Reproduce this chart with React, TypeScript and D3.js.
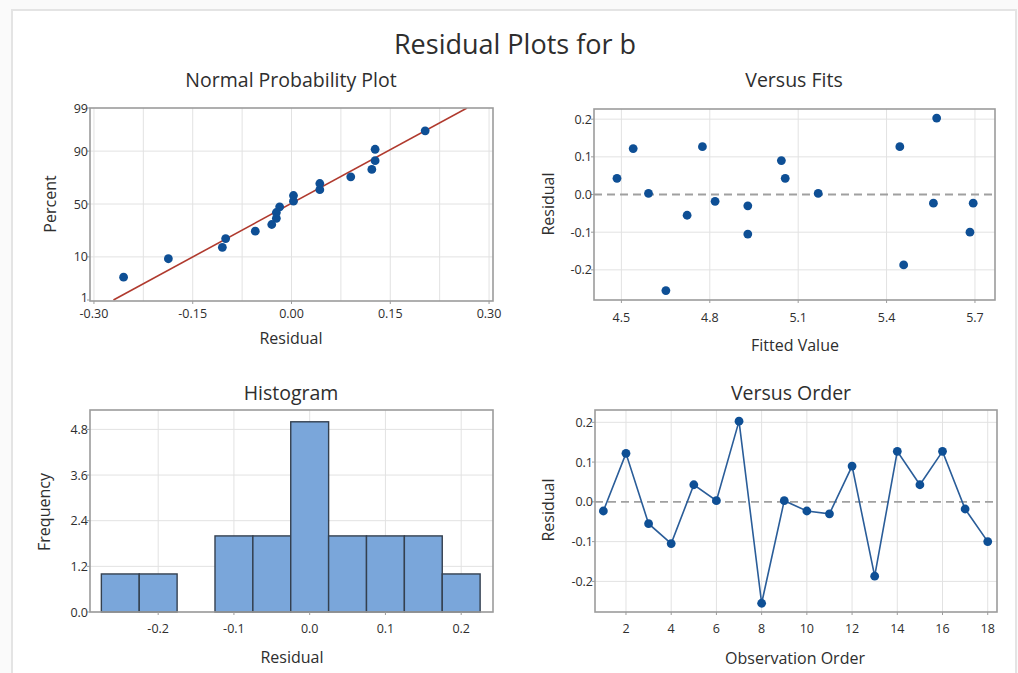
import * as d3 from "d3";

const residuals = [
  -0.023, 0.122, -0.055, -0.105, 0.043, 0.003, 0.203, -0.255, 0.003,
  -0.023, -0.03, 0.09, -0.187, 0.127, 0.043, 0.127, -0.018, -0.1,
];
const fittedValues = [
  5.559, 4.54, 4.723, 4.929, 4.485, 4.592, 5.57, 4.651, 5.168,
  5.694, 4.929, 5.043, 5.458, 4.775, 5.056, 5.445, 4.818, 5.683,
];
const histEdges = [
  -0.275, -0.225, -0.175, -0.125, -0.075, -0.025, 0.025, 0.075, 0.125, 0.175, 0.225,
];
const histCounts = [1, 1, 0, 2, 2, 5, 2, 2, 2, 1];

const normXTicks = [-0.3, -0.15, 0, 0.15, 0.3];
const normXGrid = [-0.3, -0.225, -0.15, -0.075, 0, 0.075, 0.15, 0.225, 0.3];
const percentTicks = [1, 10, 50, 90, 99];
const fitsTicks = [4.5, 4.8, 5.1, 5.4, 5.7];
const residTicks = [-0.2, -0.1, 0, 0.1, 0.2];
const histXTicks = [-0.2, -0.1, 0, 0.1, 0.2];
const freqTicks = [0, 1.2, 2.4, 3.6, 4.8];
const orderTicks = [2, 4, 6, 8, 10, 12, 14, 16, 18];

const FONT = "'Open Sans', 'Noto Sans', sans-serif";
const TXT = "#2e2e2e";
const GRID = "#e2e2e2";
const FRAME = "#9c9c9c";
const DOT = "#0e4f95";

// inverse normal cdf (Acklam)
function normInv(p: number) {
  const a = [-39.6968302866538, 220.946098424521, -275.928510446969, 138.357751867269, -30.6647980661472, 2.50662827745924];
  const b = [-54.4760987982241, 161.585836858041, -155.698979859887, 66.8013118877197, -13.2806815528857];
  const c = [-0.00778489400243029, -0.322396458041136, -2.40075827716184, -2.54973253934373, 4.37466414146497, 2.93816398269878];
  const d = [0.00778469570904146, 0.32246712907004, 2.445134137143, 3.75440866190742];
  const pl = 0.02425;
  if (p < pl) {
    const q = Math.sqrt(-2 * Math.log(p));
    return (((((c[0] * q + c[1]) * q + c[2]) * q + c[3]) * q + c[4]) * q + c[5]) /
      ((((d[0] * q + d[1]) * q + d[2]) * q + d[3]) * q + 1);
  }
  if (p > 1 - pl) {
    const q = Math.sqrt(-2 * Math.log(1 - p));
    return -(((((c[0] * q + c[1]) * q + c[2]) * q + c[3]) * q + c[4]) * q + c[5]) /
      ((((d[0] * q + d[1]) * q + d[2]) * q + d[3]) * q + 1);
  }
  const q = p - 0.5;
  const r = q * q;
  return (((((a[0] * r + a[1]) * r + a[2]) * r + a[3]) * r + a[4]) * r + a[5]) * q /
    (((((b[0] * r + b[1]) * r + b[2]) * r + b[3]) * r + b[4]) * r + 1);
}

type Box = { x0: number; x1: number; y0: number; y1: number };

function Frame({ b }: { b: Box }) {
  return (
    <rect x={b.x0} y={b.y0} width={b.x1 - b.x0} height={b.y1 - b.y0}
      fill="none" stroke={FRAME} strokeWidth={1.6} />
  );
}

function XTicks({ ticks, sx, b, fmt, dy }: any) {
  return (
    <g>
      {ticks.map((t: number) => (
        <g key={t}>
          <line x1={sx(t)} x2={sx(t)} y1={b.y1} y2={b.y1 + 3} stroke={FRAME} />
          <text x={sx(t)} y={b.y1 + dy} textAnchor="middle" fontSize={12.5} fill={TXT} fontFamily={FONT}>
            {fmt(t)}
          </text>
        </g>
      ))}
    </g>
  );
}

function YTicks({ ticks, sy, b, fmt, shift }: any) {
  return (
    <g>
      {ticks.map((t: number, i: number) => (
        <g key={t}>
          <line x1={b.x0 - 3} x2={b.x0} y1={sy(t)} y2={sy(t)} stroke={FRAME} />
          <text x={b.x0 - 2} y={sy(t) + 4.5 - (shift && i === 0 ? shift : 0)} textAnchor="end"
            fontSize={12.5} fill={TXT} fontFamily={FONT}>
            {fmt(t)}
          </text>
        </g>
      ))}
    </g>
  );
}

function Label({ x, y, text, rotate = false, size = 16 }: any) {
  return (
    <text x={x} y={y} textAnchor="middle" fontSize={size} fill={TXT} fontFamily={FONT}
      transform={rotate ? `rotate(-90,${x},${y})` : undefined}>
      {text}
    </text>
  );
}

export default function App() {
  const n = residuals.length;

  // Normal probability plot
  const b1: Box = { x0: 90, x1: 493, y0: 108, y1: 301 };
  const sx1 = d3.scaleLinear().domain([-0.306, 0.306]).range([b1.x0, b1.x1]);
  const sz1 = d3.scaleLinear().domain([normInv(0.01), normInv(0.99)]).range([300, b1.y0]);
  const sorted = [...residuals].sort(d3.ascending);
  const probPts = sorted.map((r, i) => ({ r, z: normInv((i + 1 - 0.3) / (n + 0.4)) }));
  const mu = d3.mean(residuals) as number;
  const sd = d3.deviation(residuals) as number;
  const zLo = normInv(0.01);
  const zHi = normInv(0.99);

  // Versus fits
  const b2: Box = { x0: 594, x1: 995, y0: 109, y1: 300 };
  const sx2 = d3.scaleLinear().domain([4.407, 5.768]).range([b2.x0, b2.x1]);
  const sy2 = d3.scaleLinear().domain([-0.28, 0.227]).range([b2.y1, b2.y0]);

  // Histogram
  const b3: Box = { x0: 90, x1: 493, y0: 410, y1: 612 };
  const sx3 = d3.scaleLinear().domain([-0.29, 0.242]).range([b3.x0, b3.x1]);
  const sy3 = d3.scaleLinear().domain([0, 5.31]).range([b3.y1, b3.y0]);

  // Versus order
  const b4: Box = { x0: 595, x1: 997, y0: 410, y1: 612 };
  const sx4 = d3.scaleLinear().domain([0.63, 18.41]).range([b4.x0, b4.x1]);
  const sy4 = d3.scaleLinear().domain([-0.277, 0.231]).range([b4.y1, b4.y0]);
  const orderLine = d3
    .line<number>()
    .x((_, i) => sx4(i + 1))
    .y((d) => sy4(d));

  const f2 = (v: number) => v.toFixed(2);
  const f1 = (v: number) => v.toFixed(1);

  return (
    <svg width={1018} height={673} style={{ position: "absolute", left: 0, top: 0, background: "#fafafa" }}>
      <rect x={12} y={10} width={1004} height={670} fill="#fff" stroke="#e4e4e4" strokeWidth={2} />
      <Label x={515} y={54} text="Residual Plots for b" size={27} />

      {/* Normal probability plot */}
      <Label x={291} y={87} text="Normal Probability Plot" size={19.5} />
      {normXGrid.map((t) => (
        <line key={t} x1={sx1(t)} x2={sx1(t)} y1={b1.y0} y2={b1.y1} stroke={GRID} />
      ))}
      {[10, 50, 90].map((p) => (
        <line key={p} x1={b1.x0} x2={b1.x1} y1={sz1(normInv(p / 100))} y2={sz1(normInv(p / 100))} stroke={GRID} />
      ))}
      <clipPath id="c1">
        <rect x={b1.x0} y={b1.y0} width={b1.x1 - b1.x0} height={b1.y1 - b1.y0} />
      </clipPath>
      <line clipPath="url(#c1)" x1={sx1(mu + sd * zLo)} y1={sz1(zLo)} x2={sx1(mu + sd * zHi)} y2={sz1(zHi)}
        stroke="#b03a2e" strokeWidth={1.6} />
      {probPts.map((p, i) => (
        <circle key={i} cx={sx1(p.r)} cy={sz1(p.z)} r={4.4} fill={DOT} />
      ))}
      <Frame b={b1} />
      <XTicks ticks={normXTicks} sx={sx1} b={b1} fmt={f2} dy={17} />
      <YTicks ticks={percentTicks} sy={(p: number) => sz1(normInv(p / 100))} b={b1}
        fmt={(v: number) => String(v)} shift={3} />
      <Label x={291} y={344} text="Residual" />
      <Label x={56} y={204} text="Percent" rotate />

      {/* Versus fits */}
      <Label x={794} y={87} text="Versus Fits" size={19.5} />
      {fitsTicks.map((t) => (
        <line key={t} x1={sx2(t)} x2={sx2(t)} y1={b2.y0} y2={b2.y1} stroke={GRID} />
      ))}
      {residTicks.filter((t) => t !== 0).map((t) => (
        <line key={t} x1={b2.x0} x2={b2.x1} y1={sy2(t)} y2={sy2(t)} stroke={GRID} />
      ))}
      <line x1={b2.x0} x2={b2.x1} y1={sy2(0)} y2={sy2(0)} stroke="#a0a0a0" strokeWidth={1.8} strokeDasharray="8,5" />
      {residuals.map((r, i) => (
        <circle key={i} cx={sx2(fittedValues[i])} cy={sy2(r)} r={4.4} fill={DOT} />
      ))}
      <Frame b={b2} />
      <XTicks ticks={fitsTicks} sx={sx2} b={b2} fmt={f1} dy={22} />
      <YTicks ticks={residTicks} sy={sy2} b={b2} fmt={f1} />
      <Label x={795} y={351} text="Fitted Value" />
      <Label x={554} y={204} text="Residual" rotate />

      {/* Histogram */}
      <Label x={291} y={400} text="Histogram" size={19.5} />
      {histXTicks.map((t) => (
        <line key={t} x1={sx3(t)} x2={sx3(t)} y1={b3.y0} y2={b3.y1} stroke={GRID} />
      ))}
      {freqTicks.map((t) => (
        <line key={t} x1={b3.x0} x2={b3.x1} y1={sy3(t)} y2={sy3(t)} stroke={GRID} />
      ))}
      {histCounts.map((c, i) =>
        c > 0 ? (
          <rect key={i} x={sx3(histEdges[i])} y={sy3(c)} width={sx3(histEdges[i + 1]) - sx3(histEdges[i])}
            height={sy3(0) - sy3(c)} fill="#7aa6da" stroke="#34404f" strokeWidth={1.4} />
        ) : null
      )}
      <Frame b={b3} />
      <XTicks ticks={histXTicks} sx={sx3} b={b3} fmt={f1} dy={21} />
      <YTicks ticks={freqTicks} sy={sy3} b={b3} fmt={f1} />
      <Label x={292} y={663} text="Residual" />
      <Label x={50} y={512} text="Frequency" rotate />

      {/* Versus order */}
      <Label x={791} y={400} text="Versus Order" size={19.5} />
      {orderTicks.map((t) => (
        <line key={t} x1={sx4(t)} x2={sx4(t)} y1={b4.y0} y2={b4.y1} stroke={GRID} />
      ))}
      {residTicks.filter((t) => t !== 0).map((t) => (
        <line key={t} x1={b4.x0} x2={b4.x1} y1={sy4(t)} y2={sy4(t)} stroke={GRID} />
      ))}
      <line x1={b4.x0} x2={b4.x1} y1={sy4(0)} y2={sy4(0)} stroke="#a0a0a0" strokeWidth={1.8} strokeDasharray="8,5" />
      <path d={orderLine(residuals) || ""} fill="none" stroke="#2a5d99" strokeWidth={1.6} />
      {residuals.map((r, i) => (
        <circle key={i} cx={sx4(i + 1)} cy={sy4(r)} r={4.4} fill={DOT} />
      ))}
      <Frame b={b4} />
      <XTicks ticks={orderTicks} sx={sx4} b={b4} fmt={(v: number) => String(v)} dy={21} />
      <YTicks ticks={residTicks} sy={sy4} b={b4} fmt={f1} />
      <Label x={795} y={664} text="Observation Order" />
      <Label x={554} y={510} text="Residual" rotate />
    </svg>
  );
}
